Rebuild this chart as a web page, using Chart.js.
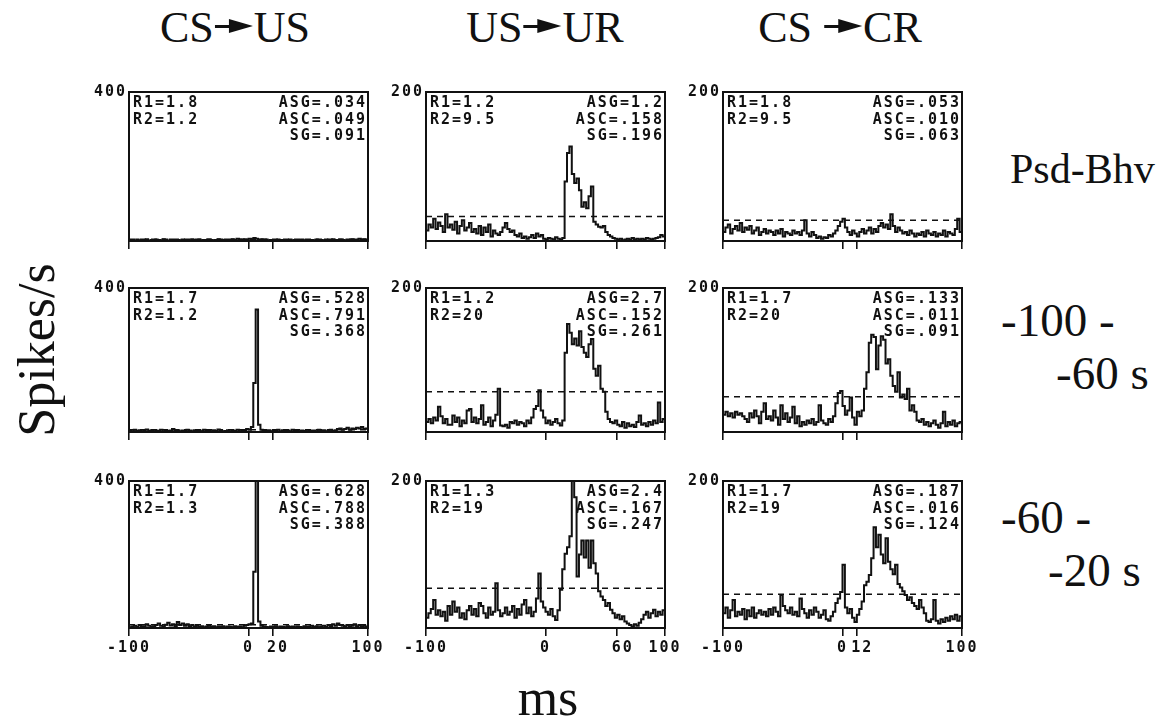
<!DOCTYPE html>
<html>
<head>
<meta charset="utf-8">
<script src="https://cdn.jsdelivr.net/npm/chart.js@4.4.1/dist/chart.umd.min.js"></script>
<style>
  body { margin: 0; background: #fff; }
  #fig { position: relative; width: 1168px; height: 724px; overflow: hidden; background: #fff; font-family: "Liberation Serif", "Times New Roman", "DejaVu Serif", serif; color: #111; }
  .panel { position: absolute; }
  .txt { position: absolute; font-size: 44px; line-height: 44px; white-space: nowrap; }
  .num { font-size: 47px; line-height: 47px; }
  .center { transform: translate(-50%, -50%); }
  .vmid { transform: translateY(-50%); }
  .arrow { display: inline-block; position: relative; width: 38px; height: 15px; margin: 0 1px; vertical-align: 8px; }
  .arrow::before { content: ''; position: absolute; left: 0; top: 6px; width: 16px; height: 3px; background: #111; }
  .arrow::after { content: ''; position: absolute; right: 0; top: 0; border-left: 24px solid #111; border-top: 7.5px solid transparent; border-bottom: 7.5px solid transparent; }
  .ylab { font-size: 52px; line-height: 52px; transform: translate(-50%, -50%) rotate(-90deg); }
</style>
</head>
<body>
<div id="fig">
  <div class="txt center" style="left:235px; top:28px;">CS<span class="arrow"></span>US</div>
  <div class="txt center" style="left:545px; top:28px;">US<span class="arrow"></span>UR</div>
  <div class="txt center" style="left:840px; top:28px;">CS <span class="arrow"></span>CR</div>

  <div class="txt vmid" style="left:1010px; top:169px; font-size:42px;">Psd-Bhv</div>
  <div class="txt num vmid" style="left:1001px; top:320px;">-100 -</div>
  <div class="txt num vmid" style="left:1056px; top:373px;">-60 s</div>
  <div class="txt num vmid" style="left:1001px; top:517px;">-60 -</div>
  <div class="txt num vmid" style="left:1048px; top:570px;">-20 s</div>

  <div class="txt ylab" style="left:37px; top:350px;">Spikes/s</div>
  <div class="txt center" style="left:548px; top:698px; font-size:52px; line-height:52px;">ms</div>
</div>

<script>
// 2 ms bins from -100 to +100 ms around the stimulus
const BIN_START = -100;
const BIN_WIDTH = 2;

// CS -> US
const csUsPsd = [
  2, 3, 1, 4, 2, 3, 2, 5, 1, 3,
  2, 4, 3, 2, 5, 3, 1, 4, 2, 3,
  3, 2, 4, 1, 3, 2, 5, 3, 2, 4,
  2, 3, 1, 4, 3, 2, 3, 5, 2, 3,
  4, 2, 3, 5, 3, 6, 4, 3, 5, 4,
  6, 5, 8, 6, 4, 5, 3, 4, 2, 3,
  3, 2, 4, 3, 2, 3, 1, 4, 2, 3,
  2, 3, 4, 2, 3, 1, 3, 2, 4, 2,
  3, 2, 4, 3, 2, 5, 3, 2, 4, 3,
  2, 4, 3, 5, 3, 4, 6, 3, 5, 4
];
const csUsEarly = [
  4, 2, 6, 3, 5, 2, 4, 7, 3, 5,
  2, 4, 3, 6, 2, 5, 3, 4, 8, 3,
  5, 2, 4, 3, 6, 4, 2, 5, 3, 4,
  2, 6, 3, 4, 2, 5, 3, 7, 4, 2,
  3, 5, 2, 4, 3, 6, 2, 4, 5, 8,
  6, 14, 136, 340, 20, 6, 4, 3, 5, 2,
  4, 3, 6, 2, 5, 3, 4, 2, 6, 3,
  5, 2, 4, 3, 2, 5, 3, 4, 2, 6,
  3, 5, 2, 4, 6, 3, 5, 8, 10, 6,
  8, 12, 6, 10, 8, 12, 10, 14, 8, 10
];
const csUsLate = [
  2, 4, 6, 3, 8, 5, 4, 10, 6, 3,
  5, 8, 12, 6, 4, 9, 14, 7, 10, 5,
  16, 8, 12, 6, 10, 5, 8, 4, 6, 3,
  5, 2, 4, 6, 3, 5, 2, 4, 3, 5,
  2, 4, 3, 2, 5, 3, 4, 2, 6, 8,
  10, 12, 153, 400, 18, 6, 4, 3, 2, 4,
  3, 5, 2, 4, 3, 2, 5, 3, 4, 2,
  4, 3, 2, 5, 3, 4, 6, 3, 5, 2,
  4, 6, 3, 8, 5, 10, 6, 12, 8, 6,
  5, 8, 4, 6, 10, 5, 8, 4, 6, 3
];

// US -> UR
const usUrPsd = [
  14, 22, 18, 30, 16, 25, 20, 12, 36, 18,
  22, 15, 26, 10, 20, 28, 14, 18, 24, 12,
  16, 10, 20, 8, 18, 12, 22, 6, 14, 10,
  8, 12, 18, 24, 16, 12, 14, 8, 6, 10,
  4, 6, 3, 5, 8, 4, 10, 6, 8, 3,
  2, 4, 3, 2, 5, 3, 2, 4, 80, 118,
  127, 90, 78, 84, 68, 46, 52, 44, 60, 73,
  26, 22, 19, 18, 20, 12, 8, 6, 4, 3,
  2, 3, 1, 2, 3, 2, 4, 2, 3, 2,
  3, 2, 4, 3, 2, 3, 4, 5, 8, 6
];
const usUrEarly = [
  14, 18, 12, 20, 16, 35, 22, 12, 18, 10,
  10, 23, 14, 20, 8, 16, 12, 30, 32, 14,
  20, 12, 18, 37, 10, 14, 20, 8, 16, 24,
  60, 9, 8, 10, 6, 14, 12, 16, 10, 14,
  12, 8, 16, 12, 20, 32, 36, 58, 30, 20,
  12, 16, 10, 14, 18, 12, 9, 16, 110, 150,
  138, 122, 130, 120, 140, 118, 110, 104, 122, 129,
  88, 78, 92, 60, 56, 28, 18, 14, 12, 16,
  10, 8, 14, 6, 12, 8, 10, 7, 14, 23,
  10, 12, 8, 14, 10, 16, 12, 41, 14, 18
];
const usUrLate = [
  14, 20, 26, 38, 18, 24, 16, 22, 10, 30,
  18, 36, 22, 28, 14, 20, 12, 24, 30, 18,
  26, 16, 34, 30, 20, 14, 28, 18, 22, 61,
  24, 16, 20, 28, 18, 22, 30, 14, 26, 18,
  32, 38, 20, 28, 16, 22, 40, 74, 36, 28,
  22, 18, 26, 16, 11, 24, 52, 80, 101, 110,
  125, 200, 178, 70, 100, 119, 96, 119, 82, 119,
  88, 74, 50, 43, 38, 30, 34, 25, 20, 14,
  18, 12, 16, 9, 6, 4, 2, 5, 3, 7,
  12, 18, 22, 14, 20, 25, 16, 22, 18, 24
];

// CS -> CR
const csCrPsd = [
  12, 18, 22, 10, 16, 20, 14, 24, 12, 18,
  15, 20, 10, 14, 18, 8, 12, 16, 10, 14,
  12, 8, 14, 10, 16, 6, 12, 10, 8, 14,
  10, 12, 8, 14, 28, 10, 6, 12, 8, 4,
  6, 3, 5, 4, 8, 6, 10, 14, 20, 26,
  30, 18, 12, 8, 14, 10, 6, 12, 16, 10,
  14, 18, 10, 16, 12, 20, 24, 18, 22, 16,
  36, 20, 12, 18, 14, 10, 12, 8, 14, 10,
  6, 10, 8, 12, 6, 14, 10, 8, 12, 6,
  10, 8, 14, 6, 12, 10, 8, 16, 30, 12
];
const csCrEarly = [
  24, 28, 22, 26, 20, 28, 24, 26, 22, 18,
  14, 26, 20, 30, 22, 12, 28, 40, 18, 22,
  16, 30, 20, 10, 37, 18, 26, 14, 20, 35,
  12, 22, 8, 14, 10, 16, 12, 18, 10, 14,
  37, 16, 12, 10, 18, 14, 22, 40, 54, 57,
  36, 24, 30, 48, 20, 10, 28, 22, 30, 60,
  83, 124, 135, 132, 87, 120, 133, 128, 95, 101,
  78, 64, 56, 83, 48, 52, 46, 60, 30, 37,
  28, 16, 14, 18, 10, 14, 8, 12, 16, 10,
  6, 12, 28, 8, 14, 10, 16, 8, 12, 14
];
const csCrLate = [
  20, 28, 14, 24, 38, 16, 22, 18, 26, 12,
  24, 16, 28, 14, 20, 24, 18, 22, 16, 26,
  18, 28, 22, 16, 45, 30, 24, 20, 28, 18,
  22, 16, 40, 26, 20, 14, 24, 18, 28, 22,
  14, 18, 24, 12, 10, 16, 22, 34, 40, 49,
  86, 28, 20, 26, 14, 8, 18, 26, 36, 58,
  63, 72, 95, 137, 110, 127, 100, 88, 122, 90,
  80, 73, 86, 60, 55, 50, 45, 38, 42, 34,
  30, 26, 38, 28, 20, 10, 8, 12, 38, 10,
  6, 12, 8, 14, 10, 16, 12, 18, 10, 16
];

// dashed significance level for each row (Psd-Bhv, -100..-60 s, -60..-20 s)
const csUsThresh = [5, 6.5, 9];
const usUrThresh = [33, 56, 54];
const csCrThresh = [28, 49, 46];

// full scale and extra tick per column
const yMaxes = [400, 200, 200];
const midTicks = [20, 60, 12];

// printed statistics, left block and right block
const csUsStats = [
  [['R1=1.8', 'R2=1.2'], ['ASG=.034', 'ASC=.049', 'SG=.091']],
  [['R1=1.7', 'R2=1.2'], ['ASG=.528', 'ASC=.791', 'SG=.368']],
  [['R1=1.7', 'R2=1.3'], ['ASG=.628', 'ASC=.788', 'SG=.388']]
];
const usUrStats = [
  [['R1=1.2', 'R2=9.5'], ['ASG=1.2', 'ASC=.158', 'SG=.196']],
  [['R1=1.2', 'R2=20'], ['ASG=2.7', 'ASC=.152', 'SG=.261']],
  [['R1=1.3', 'R2=19'], ['ASG=2.4', 'ASC=.167', 'SG=.247']]
];
const csCrStats = [
  [['R1=1.8', 'R2=9.5'], ['ASG=.053', 'ASC=.010', 'SG=.063']],
  [['R1=1.7', 'R2=20'], ['ASG=.133', 'ASC=.011', 'SG=.091']],
  [['R1=1.7', 'R2=19'], ['ASG=.187', 'ASC=.016', 'SG=.124']]
];

const columns = [
  { series: [csUsPsd, csUsEarly, csUsLate], thresh: csUsThresh, stats: csUsStats },
  { series: [usUrPsd, usUrEarly, usUrLate], thresh: usUrThresh, stats: usUrStats },
  { series: [csCrPsd, csCrEarly, csCrLate], thresh: csCrThresh, stats: csCrStats }
];

// panel frame geometry
const boxLeft = [129, 426, 723];
const boxTop = [92, 288, 481];
const boxHeight = [149, 144, 147];
const BOX_W = 239;
const Y_W = 46, PAD_T = 12, PAD_R = 24, AXIS_H = 34;

const MONO = '"DejaVu Sans Mono", "Liberation Mono", monospace';
const INK = '#111';

const panelFrame = {
  id: 'panelFrame',
  beforeDraw(chart) {
    chart.ctx.letterSpacing = '2px';
  },
  beforeDatasetsDraw(chart, args, opts) {
    const { ctx, chartArea: a } = chart;
    ctx.save();
    ctx.font = 'bold 15px ' + MONO;
    ctx.letterSpacing = '2px';
    ctx.fillStyle = INK;
    ctx.textBaseline = 'top';
    ctx.textAlign = 'left';
    opts.left.forEach((t, i) => ctx.fillText(t, a.left + 4, a.top + 4 + i * 16.5));
    ctx.textAlign = 'right';
    opts.right.forEach((t, i) => ctx.fillText(t, a.right - 1, a.top + 4 + i * 16.5));
    ctx.restore();
  },
  afterDraw(chart) {
    const { ctx, chartArea: a } = chart;
    ctx.save();
    ctx.strokeStyle = INK;
    ctx.lineWidth = 2;
    ctx.strokeRect(a.left, a.top, a.right - a.left, a.bottom - a.top);
    ctx.restore();
  }
};

function histPoints(values) {
  // bin left edges, plus the closing edge at +100 ms
  const pts = values.map((v, i) => ({ x: BIN_START + i * BIN_WIDTH, y: v }));
  pts.push({ x: BIN_START + values.length * BIN_WIDTH, y: values[values.length - 1] });
  return pts;
}

function makePanel(col, row) {
  const fig = document.getElementById('fig');
  const wrap = document.createElement('div');
  wrap.className = 'panel';
  const w = Y_W + BOX_W + PAD_R;
  const h = PAD_T + boxHeight[row] + AXIS_H;
  wrap.style.left = (boxLeft[col] - Y_W) + 'px';
  wrap.style.top = (boxTop[row] - PAD_T) + 'px';
  const canvas = document.createElement('canvas');
  canvas.width = w;
  canvas.height = h;
  wrap.appendChild(canvas);
  fig.appendChild(wrap);

  const c = columns[col];
  const yMax = yMaxes[col];
  const t = c.thresh[row];
  const mid = midTicks[col];
  const xTicks = [-100, 0, mid, 100];

  new Chart(canvas, {
    type: 'line',
    data: {
      datasets: [
        {
          data: histPoints(c.series[row]),
          stepped: true,
          borderColor: INK,
          borderWidth: 2,
          pointRadius: 0,
          fill: false
        },
        {
          data: [{ x: -100, y: t }, { x: 100, y: t }],
          borderColor: INK,
          borderWidth: 1.5,
          borderDash: [6, 5],
          pointRadius: 0,
          fill: false
        }
      ]
    },
    options: {
      responsive: false,
      animation: false,
      events: [],
      layout: { padding: { top: PAD_T, right: PAD_R, left: 0, bottom: 0 } },
      plugins: {
        legend: { display: false },
        tooltip: { enabled: false },
        panelFrame: { left: c.stats[row][0], right: c.stats[row][1] }
      },
      scales: {
        x: {
          type: 'linear',
          min: -100,
          max: 100,
          afterFit: s => { s.height = AXIS_H; },
          afterBuildTicks: s => { s.ticks = xTicks.map(v => ({ value: v })); },
          grid: { drawOnChartArea: false, drawTicks: true, tickLength: 8, color: INK, lineWidth: 1.6 },
          border: { display: false },
          ticks: {
            display: row === 2,
            autoSkip: false,
            maxRotation: 0,
            padding: 3,
            color: INK,
            font: { family: MONO, size: 15, weight: 'bold' },
            // the extra tick's label sits a little to the right of its mark
            callback: v => (v === mid ? ' ' + v : String(v))
          }
        },
        y: {
          min: 0,
          max: yMax,
          afterFit: s => { s.width = Y_W; },
          afterBuildTicks: s => { s.ticks = [{ value: yMax }]; },
          grid: { display: false, drawTicks: false },
          border: { display: false },
          ticks: {
            padding: 2,
            color: INK,
            font: { family: MONO, size: 15, weight: 'bold' },
            callback: v => String(v)
          }
        }
      }
    },
    plugins: [panelFrame]
  });
}

for (let row = 0; row < 3; row++) {
  for (let col = 0; col < 3; col++) {
    makePanel(col, row);
  }
}
</script>
</body>
</html>
